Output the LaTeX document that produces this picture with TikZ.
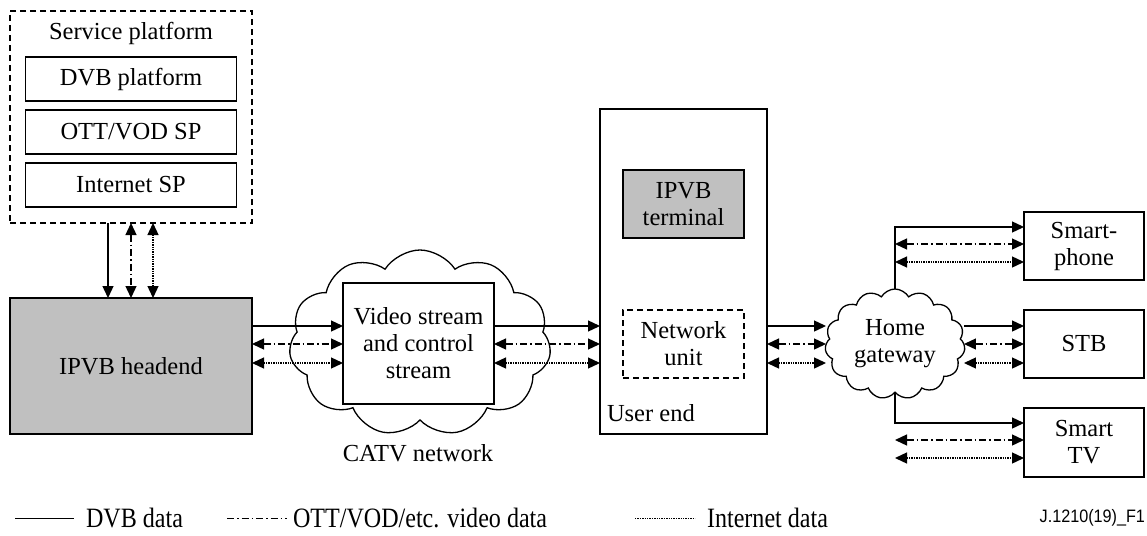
\documentclass[tikz,border=0pt]{standalone}
\usepackage{fontspec}
\setmainfont{Liberation Serif}
\newfontfamily\legendfont[FakeStretch=0.86]{Liberation Serif}
\newfontfamily\tagfont[FakeStretch=0.9]{Liberation Sans}
\usetikzlibrary{arrows.meta,shapes.symbols}
\definecolor{boxgray}{RGB}{192,192,192}
\begin{document}
\begin{tikzpicture}[x=1pt,y=-1pt,
  font=\fontsize{24.5}{27}\selectfont,
  line width=1.3pt,
  every node/.style={inner sep=0pt, outer sep=0pt},
  box/.style={draw, rectangle, align=center},
  graybox/.style={box, fill=boxgray},
  dashbox/.style={box, dash pattern=on 6pt off 4pt},
  tip/.style={-{Triangle[length=12pt,width=11pt]}},
  both/.style={{Triangle[length=12pt,width=11pt]}-{Triangle[length=12pt,width=11pt]}},
  dvbline/.style={},
  ottline/.style={dash pattern=on 7pt off 3pt on 1.5pt off 3pt},
  netline/.style={line width=1.3pt, dash pattern=on 1.4pt off 1pt},
  cloudbox/.style={draw, cloud, fill=white, align=center}
]
\useasboundingbox (0,0) rectangle (1147,535);

% service platform and its three providers
\node[dashbox, minimum width=242pt, minimum height=212pt] (sp) at (131,117) {};
\node (sptitle) at (131,33) {Service platform};
\node[box, minimum width=211pt, minimum height=44pt] (dvb) at (131,79) {DVB platform};
\node[box, minimum width=211pt, minimum height=44pt] (ott) at (131,132) {OTT/VOD SP};
\node[box, minimum width=211pt, minimum height=44pt] (isp) at (131,185) {Internet SP};

% headend
\node[graybox, minimum width=242pt, minimum height=136pt] (he) at (131,366) {IPVB headend};

% CATV network
\node[cloudbox, cloud puffs=11, cloud puff arc=115, aspect=1.4,
      minimum width=262pt, minimum height=186pt] (catv) at (420,343) {};
\node[box, fill=white, minimum width=151pt, minimum height=121pt] (vs) at (418.5,343.5)
  {Video stream\\and control\\stream};
\node (catvlabel) at (418,453) {CATV network};

% user end
\node[box, minimum width=167pt, minimum height=325pt] (ue) at (683.5,271.5) {};
\node[graybox, minimum width=121pt, minimum height=68pt] (term) at (683.5,204) {IPVB\\terminal};
\node[dashbox, minimum width=121pt, minimum height=68pt] (nu) at (683.5,344) {Network\\unit};
\node[anchor=west] (uelabel) at (607,413) {User end};

% home gateway and devices
\node[cloudbox, cloud puffs=15, cloud puff arc=120, aspect=1.3,
      minimum width=140pt, minimum height=110pt] (hg) at (895,344) {Home\\gateway};
\node[box, minimum width=120pt, minimum height=68pt] (sph) at (1084,246) {Smart-\\phone};
\node[box, minimum width=120pt, minimum height=68pt] (stb) at (1084,344) {STB};
\node[box, minimum width=120pt, minimum height=69pt] (stv) at (1084,442.5) {Smart\\TV};

% rows of the three data flows
\coordinate (r1) at (0,326);
\coordinate (r2) at (0,344);
\coordinate (r3) at (0,363);
\coordinate (p1) at (0,227);
\coordinate (p2) at (0,244);
\coordinate (p3) at (0,262);
\coordinate (q1) at (0,423);
\coordinate (q2) at (0,440);
\coordinate (q3) at (0,458);

% service platform <-> headend
\draw[dvbline, tip] ([xshift=-23pt]sp.south) -- ([xshift=-23pt]he.north);
\draw[ottline, both] (sp.south) -- (he.north);
\draw[netline, both] ([xshift=22pt]sp.south) -- ([xshift=22pt]he.north);

% headend <-> CATV
\draw[dvbline, tip] (he.east |- r1) -- (vs.west |- r1);
\draw[ottline, both] (he.east |- r2) -- (vs.west |- r2);
\draw[netline, both] (he.east |- r3) -- (vs.west |- r3);

% CATV <-> user end
\draw[dvbline, tip] (vs.east |- r1) -- (ue.west |- r1);
\draw[ottline, both] (vs.east |- r2) -- (ue.west |- r2);
\draw[netline, both] (vs.east |- r3) -- (ue.west |- r3);

% user end <-> home gateway
\draw[dvbline, tip] (ue.east |- r1) -- (hg.west |- r1);
\draw[ottline, both] (ue.east |- r2) -- (hg.west |- r2);
\draw[netline, both] (ue.east |- r3) -- (hg.west |- r3);

% home gateway -> smartphone
\draw[dvbline, tip] (hg.north) -- (hg.north |- p1) -- (sph.west |- p1);
\draw[ottline, both] (hg.north |- p2) -- (sph.west |- p2);
\draw[netline, both] (hg.north |- p3) -- (sph.west |- p3);

% home gateway -> STB
\draw[dvbline, tip] (hg.east |- r1) -- (stb.west |- r1);
\draw[ottline, both] (hg.east |- r2) -- (stb.west |- r2);
\draw[netline, both] (hg.east |- r3) -- (stb.west |- r3);

% home gateway -> smart TV
\draw[dvbline, tip] (hg.south) -- (hg.south |- q1) -- (stv.west |- q1);
\draw[ottline, both] (hg.south |- q2) -- (stv.west |- q2);
\draw[netline, both] (hg.south |- q3) -- (stv.west |- q3);

% legend
\node[anchor=west, font=\legendfont\fontsize{28}{30}\selectfont] (l1) at (86,518) {DVB data};
\node[anchor=west, font=\legendfont\fontsize{28}{30}\selectfont] (l2) at (293,518) {OTT/VOD/etc. video data};
\node[anchor=west, font=\legendfont\fontsize{28}{30}\selectfont] (l3) at (707,518) {Internet data};
\coordinate (s1) at (15,518);
\coordinate (s2) at (227,518);
\coordinate (s3) at (635,518);
\draw[dvbline, line width=1pt] (s1) -- ([xshift=-12pt]l1.west);
\draw[ottline, line width=1pt] (s2) -- ([xshift=-6pt]l2.west);
\draw[netline, line width=1pt] (s3) -- ([xshift=-12pt]l3.west);
\node[anchor=east, font=\tagfont\fontsize{18}{20}\selectfont] (tag) at (1145,518) {J.1210(19)\_F1};
\end{tikzpicture}
\end{document}
